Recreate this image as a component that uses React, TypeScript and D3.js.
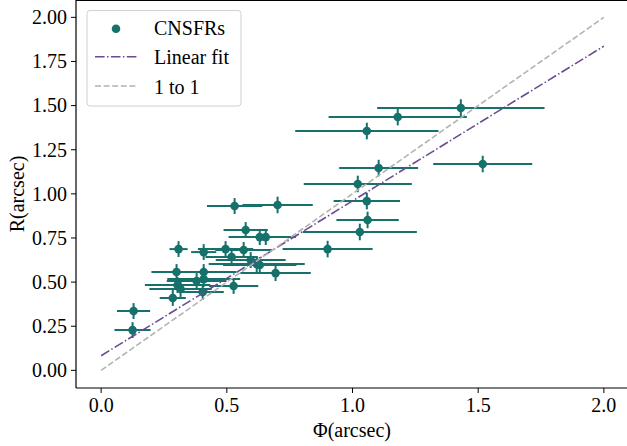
import React from "react";
import * as d3 from "d3";

// Data: Φ (arcsec), R (arcsec), and errors
const phi = [1.431, 1.18, 1.057, 1.518, 1.104, 1.021, 1.057, 1.06, 1.029, 0.901, 0.702, 0.531, 0.575, 0.631, 0.655, 0.308, 0.408, 0.495, 0.567, 0.519, 0.595, 0.619, 0.631, 0.3, 0.408, 0.694, 0.38, 0.408, 0.304, 0.316, 0.527, 0.404, 0.285, 0.129, 0.125];
const rad = [1.486, 1.435, 1.356, 1.169, 1.146, 1.056, 0.959, 0.852, 0.784, 0.687, 0.937, 0.931, 0.795, 0.755, 0.755, 0.687, 0.67, 0.687, 0.682, 0.642, 0.625, 0.602, 0.597, 0.557, 0.557, 0.551, 0.506, 0.517, 0.483, 0.461, 0.478, 0.444, 0.41, 0.336, 0.228];
const phiErr = [0.333, 0.275, 0.285, 0.197, 0.157, 0.215, 0.132, 0.124, 0.227, 0.179, 0.14, 0.11, 0.088, 0.124, 0.12, 0.036, 0.05, 0.11, 0.113, 0.104, 0.139, 0.191, 0.146, 0.1, 0.13, 0.14, 0.119, 0.145, 0.13, 0.124, 0.098, 0.084, 0.052, 0.066, 0.072];
const radErr = [0.05, 0.047, 0.047, 0.047, 0.047, 0.047, 0.047, 0.047, 0.047, 0.047, 0.047, 0.045, 0.045, 0.045, 0.045, 0.045, 0.045, 0.045, 0.045, 0.045, 0.045, 0.045, 0.045, 0.045, 0.045, 0.045, 0.045, 0.045, 0.045, 0.045, 0.045, 0.045, 0.045, 0.045, 0.045];

const fitSlope = 0.877;
const fitIntercept = 0.083;
const lineX = [0, 2];

const xTicks = [0, 0.5, 1.0, 1.5, 2.0];
const yTicks = [0, 0.25, 0.5, 0.75, 1.0, 1.25, 1.5, 1.75, 2.0];

const legendLabels = ["CNSFRs", "Linear fit", "1 to 1"];

const W = 627;
const H = 446;
const TEAL = "#16716a";
const PURPLE = "#6b4c91";
const GRAY = "#b3b3b3";
const FONT = "'Liberation Serif', 'Times New Roman', 'DejaVu Serif', serif";
const FS = 20;

export default function App() {
  const x = d3.scaleLinear().domain([-0.1, 2.1]).range([76, 629]);
  const y = d3.scaleLinear().domain([-0.1, 2.1]).range([388, -0.3]);
  const line = d3
    .line<number>()
    .x((d) => x(d))
    .y((d) => y(fitSlope * d + fitIntercept));
  const one = d3
    .line<number>()
    .x((d) => x(d))
    .y((d) => y(d));

  return (
    <svg
      width={W}
      height={H}
      style={{ position: "absolute", left: 0, top: 0, background: "#fff" }}
      fontFamily={FONT}
    >
      <rect x={0} y={0} width={W} height={H} fill="#fff" />
      {/* error bars */}
      <g stroke={TEAL} strokeWidth={2}>
        {phi.map((p, i) => (
          <g key={i}>
            <line x1={x(p - phiErr[i])} x2={x(p + phiErr[i])} y1={y(rad[i])} y2={y(rad[i])} />
            <line x1={x(p)} x2={x(p)} y1={y(rad[i] - radErr[i])} y2={y(rad[i] + radErr[i])} />
          </g>
        ))}
      </g>
      <g fill={TEAL}>
        {phi.map((p, i) => (
          <circle key={i} cx={x(p)} cy={y(rad[i])} r={4.3} />
        ))}
      </g>
      <path d={line(lineX) || ""} fill="none" stroke={PURPLE} strokeWidth={1.6} strokeDasharray="9.6,2.4,1.5,2.4" />
      <path d={one(lineX) || ""} fill="none" stroke={GRAY} strokeWidth={1.6} strokeDasharray="6,2.6" />

      {/* spines */}
      <g stroke="#000" strokeWidth={1.2} fill="none">
        <line x1={76} x2={76} y1={0} y2={388} />
        <line x1={76} x2={629} y1={388} y2={388} />
        <line x1={76} x2={629} y1={0.5} y2={0.5} />
      </g>
      {/* x ticks */}
      {xTicks.map((t) => (
        <g key={t}>
          <line x1={x(t)} x2={x(t)} y1={388} y2={393} stroke="#000" strokeWidth={1} />
          <text x={x(t)} y={411.5} textAnchor="middle" fontSize={FS} fill="#000">
            {t.toFixed(1)}
          </text>
        </g>
      ))}
      {yTicks.map((t) => (
        <g key={t}>
          <line x1={71} x2={76} y1={y(t)} y2={y(t)} stroke="#000" strokeWidth={1} />
          <text x={67} y={y(t)} dy="0.34em" textAnchor="end" fontSize={FS} fill="#000">
            {t.toFixed(2)}
          </text>
        </g>
      ))}
      <text x={352} y={437} textAnchor="middle" fontSize={FS} fill="#000">
        Φ(arcsec)
      </text>
      <text transform={`translate(24,194) rotate(-90)`} textAnchor="middle" fontSize={FS} fill="#000">
        R(arcsec)
      </text>

      {/* legend */}
      <rect x={87} y={10.5} width={154} height={95.5} rx={3} fill="#fff" fillOpacity={0.8} stroke="#d0d0d0" strokeWidth={1} />
      <circle cx={116} cy={28.7} r={4.3} fill={TEAL} />
      <line x1={95} x2={137} y1={56.7} y2={56.7} stroke={PURPLE} strokeWidth={1.6} strokeDasharray="9.6,2.4,1.5,2.4" />
      <line x1={95} x2={137} y1={86} y2={86} stroke={GRAY} strokeWidth={1.6} strokeDasharray="6,2.6" />
      {legendLabels.map((l, i) => (
        <text key={l} x={154} y={[35, 64.3, 93.6][i]} fontSize={FS} fill="#000">
          {l}
        </text>
      ))}
    </svg>
  );
}
